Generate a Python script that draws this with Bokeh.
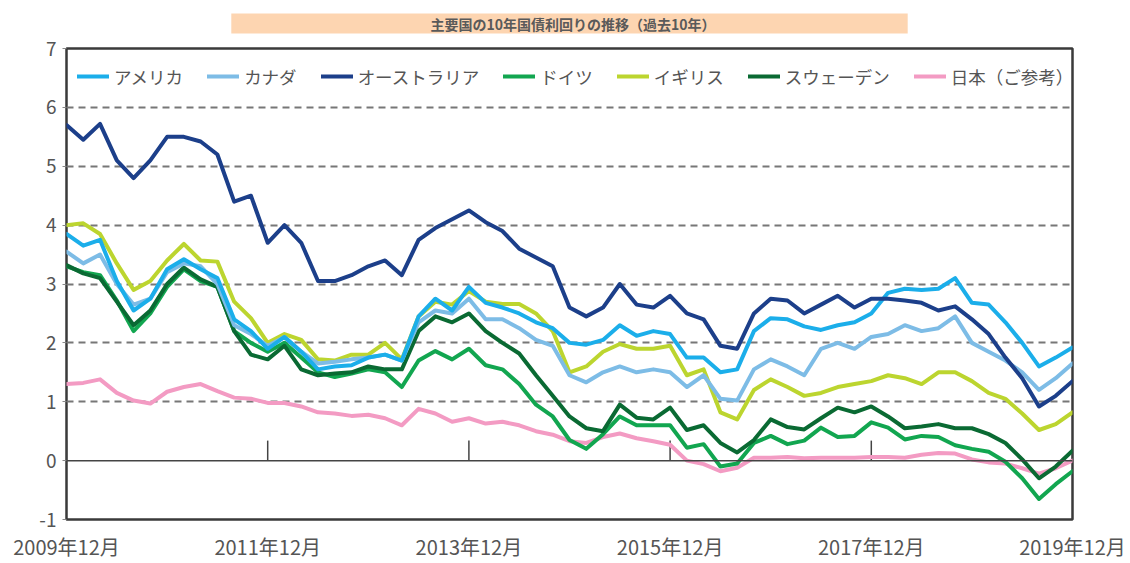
from bokeh.plotting import figure
from bokeh.models import (FixedTicker, Legend, LegendItem, Label, Span, ColumnDataSource, Range1d)
from bokeh.embed import file_html
from bokeh.resources import INLINE

# month index since 2009-12 (sampled every 2 months)
months = list(range(0, 121, 2))

usa = [3.85, 3.65, 3.75, 3.05, 2.55, 2.75, 3.25, 3.42, 3.25, 3.1, 2.4, 2.2, 1.9, 2.1, 1.85, 1.55,
       1.6, 1.62, 1.75, 1.8, 1.7, 2.45, 2.75, 2.55, 2.95, 2.68, 2.6, 2.5, 2.35, 2.25, 2.0, 1.97,
       2.05, 2.3, 2.12, 2.2, 2.15, 1.75, 1.75, 1.5, 1.55, 2.2, 2.42, 2.4, 2.28, 2.22, 2.3, 2.35,
       2.5, 2.85, 2.92, 2.9, 2.92, 3.1, 2.68, 2.65, 2.35, 2.0, 1.6, 1.75, 1.92]
canada = [3.55, 3.35, 3.5, 3.0, 2.65, 2.75, 3.2, 3.35, 3.3, 3.0, 2.3, 2.15, 1.95, 2.1, 1.85, 1.65,
          1.68, 1.72, 1.75, 1.8, 1.7, 2.35, 2.55, 2.5, 2.75, 2.4, 2.4, 2.25, 2.05, 1.95, 1.45, 1.33,
          1.5, 1.6, 1.5, 1.55, 1.5, 1.25, 1.45, 1.05, 1.02, 1.55, 1.72, 1.6, 1.45, 1.9, 2.0, 1.9,
          2.1, 2.15, 2.3, 2.2, 2.25, 2.45, 2.0, 1.85, 1.7, 1.5, 1.2, 1.4, 1.65]
australia = [5.7, 5.45, 5.72, 5.1, 4.8, 5.1, 5.5, 5.5, 5.42, 5.2, 4.4, 4.5, 3.7, 4.0, 3.7, 3.05,
             3.05, 3.15, 3.3, 3.4, 3.15, 3.75, 3.95, 4.1, 4.25, 4.05, 3.9, 3.6, 3.45, 3.3, 2.6, 2.45,
             2.6, 3.0, 2.65, 2.6, 2.8, 2.5, 2.4, 1.95, 1.9, 2.5, 2.75, 2.72, 2.5, 2.65, 2.8, 2.6,
             2.75, 2.75, 2.72, 2.68, 2.55, 2.62, 2.4, 2.15, 1.75, 1.4, 0.92, 1.1, 1.35]
germany = [3.3, 3.2, 3.15, 2.72, 2.2, 2.5, 2.95, 3.25, 3.05, 2.95, 2.2, 2.0, 1.85, 2.0, 1.75, 1.5,
           1.42, 1.48, 1.55, 1.5, 1.25, 1.7, 1.86, 1.72, 1.9, 1.62, 1.55, 1.3, 0.95, 0.75, 0.35, 0.2,
           0.45, 0.75, 0.6, 0.6, 0.6, 0.22, 0.28, -0.1, -0.05, 0.3, 0.42, 0.28, 0.34, 0.56, 0.4, 0.42,
           0.65, 0.56, 0.36, 0.42, 0.4, 0.26, 0.2, 0.15, -0.02, -0.3, -0.65, -0.4, -0.18]
uk = [4.0, 4.03, 3.85, 3.35, 2.9, 3.05, 3.4, 3.68, 3.4, 3.38, 2.7, 2.42, 2.0, 2.15, 2.05, 1.72,
      1.7, 1.8, 1.8, 2.0, 1.72, 2.45, 2.7, 2.65, 2.88, 2.7, 2.66, 2.66, 2.5, 2.2, 1.5, 1.6,
      1.85, 1.98, 1.9, 1.9, 1.95, 1.45, 1.55, 0.82, 0.7, 1.2, 1.38, 1.25, 1.1, 1.15, 1.25, 1.3,
      1.35, 1.45, 1.4, 1.3, 1.5, 1.5, 1.35, 1.15, 1.05, 0.8, 0.52, 0.62, 0.82]
sweden = [3.32, 3.18, 3.1, 2.7, 2.3, 2.55, 3.0, 3.28, 3.08, 2.95, 2.2, 1.8, 1.72, 1.95, 1.55, 1.45,
          1.48, 1.5, 1.6, 1.55, 1.55, 2.2, 2.45, 2.35, 2.5, 2.2, 2.0, 1.82, 1.45, 1.1, 0.75, 0.55,
          0.5, 0.95, 0.73, 0.7, 0.9, 0.52, 0.6, 0.3, 0.14, 0.35, 0.7, 0.57, 0.53, 0.72, 0.9, 0.82,
          0.92, 0.75, 0.55, 0.58, 0.62, 0.55, 0.55, 0.45, 0.3, 0.02, -0.3, -0.1, 0.17]
japan = [1.3, 1.32, 1.38, 1.15, 1.02, 0.97, 1.17, 1.25, 1.3, 1.18, 1.07, 1.05, 0.98, 0.98, 0.92, 0.82,
         0.8, 0.76, 0.78, 0.72, 0.6, 0.88, 0.8, 0.66, 0.72, 0.63, 0.66, 0.6, 0.5, 0.44, 0.33, 0.3,
         0.4, 0.46, 0.38, 0.33, 0.27, 0.0, -0.06, -0.18, -0.12, 0.05, 0.05, 0.06, 0.04, 0.05, 0.05, 0.05,
         0.06, 0.06, 0.05, 0.1, 0.13, 0.12, 0.02, -0.03, -0.05, -0.13, -0.22, -0.13, 0.0]

series_names = ["アメリカ", "カナダ", "オーストラリア", "ドイツ", "イギリス", "スウェーデン", "日本（ご参考）"]
series_values = [usa, canada, australia, germany, uk, sweden, japan]
series_colors = ["#1BAEEA", "#7DBCE6", "#1C3F8A", "#12A650", "#BCD52F", "#0A6A33", "#F39BC3"]
draw_order = [6, 3, 5, 4, 1, 0, 2]

tick_months = [0, 24, 48, 72, 96, 120]
tick_labels = ["2009年12月", "2011年12月", "2013年12月", "2015年12月", "2017年12月", "2019年12月"]
y_ticks = [-1, 0, 1, 2, 3, 4, 5, 6, 7]
grid_levels = [1, 2, 3, 4, 5, 6]

title_text = "主要国の10年国債利回りの推移（過去10年）"
unit_text = "(%)"

FONT = "Noto Sans CJK JP"
TXT = "#555555"

p = figure(width=1130, height=563, output_backend="svg", toolbar_location=None,
           x_range=Range1d(0, 120), y_range=Range1d(-1, 7),
           min_border_left=66, min_border_right=58, min_border_top=47, min_border_bottom=44)
p.background_fill_color = "white"
p.border_fill_color = "white"
p.outline_line_color = "#3a3a3a"
p.outline_line_width = 2.5

# title banner at the top
pad = "\u3000" * 14 + " "
p.title.text = pad + title_text + pad
p.title.align = "center"
p.title.vertical_align = "top"
p.title.text_font = FONT
p.title.text_font_size = "14px"
p.title.text_font_style = "bold"
p.title.text_color = "#5a5a5a"
p.title.background_fill_color = "#FDD5B1"
p.title.standoff = 26

# axes
p.xaxis.ticker = FixedTicker(ticks=tick_months)
p.xaxis.major_label_overrides = {m: l for m, l in zip(tick_months, tick_labels)}
p.xaxis.axis_line_color = None
p.xaxis.major_tick_line_color = None
p.xaxis.minor_tick_line_color = None
p.xaxis.major_label_standoff = 6
p.xaxis.major_label_text_font = FONT
p.xaxis.major_label_text_font_size = "20px"
p.xaxis.major_label_text_color = TXT

p.yaxis.ticker = FixedTicker(ticks=y_ticks)
p.yaxis.major_label_overrides = {-1: "-1"}
p.yaxis.axis_line_color = None
p.yaxis.major_tick_line_color = "#888888"
p.yaxis.major_tick_in = 0
p.yaxis.major_tick_out = 4
p.yaxis.minor_tick_line_color = None
p.yaxis.major_label_standoff = 6
p.yaxis.major_label_text_font = FONT
p.yaxis.major_label_text_font_size = "19px"
p.yaxis.major_label_text_color = TXT

p.xgrid.grid_line_color = None
p.ygrid.ticker = FixedTicker(ticks=grid_levels)
p.ygrid.grid_line_color = "#777777"
p.ygrid.grid_line_dash = "7 5"
p.ygrid.grid_line_width = 2

# zero line and its tick marks
p.add_layout(Span(location=0, dimension="width", line_color="#444444", line_width=1.5))
p.segment(x0=tick_months, y0=[0] * len(tick_months), x1=tick_months, y1=[0.34] * len(tick_months),
          line_color="#444444", line_width=1.5)

renderers = {}
for i in draw_order:
    src = ColumnDataSource(dict(x=months, y=series_values[i]))
    r = p.line("x", "y", source=src, line_color=series_colors[i], line_width=4,
               line_join="round", line_cap="round")
    renderers[i] = r

items = [LegendItem(label=series_names[i], renderers=[renderers[i]]) for i in range(len(series_names))]
legend = Legend(items=items, orientation="horizontal", location="top_left", margin=11, padding=0,
                label_text_font=FONT, label_text_font_size="17.5px", label_text_color=TXT,
                glyph_width=32, glyph_height=34, label_height=34, label_standoff=5, spacing=24,
                border_line_color=None, background_fill_alpha=0)
p.add_layout(legend)

p.add_layout(Label(x=-1.8, y=7.49, text=unit_text,
                   text_font=FONT, text_font_size="15px", text_color=TXT,
                   text_align="center", text_baseline="middle"))

open("out.html", "w").write(file_html(p, INLINE))
